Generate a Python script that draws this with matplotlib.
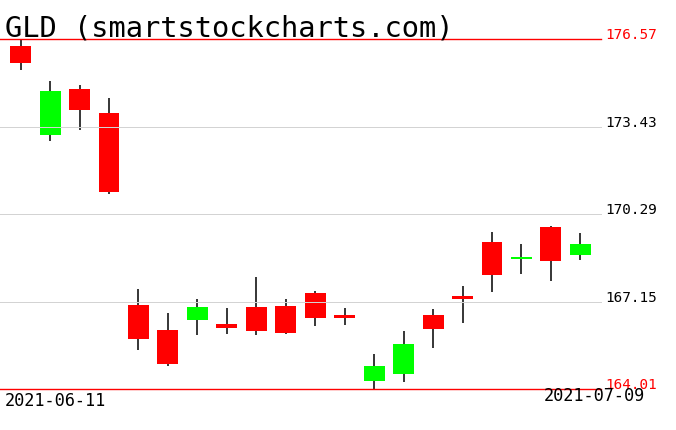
import matplotlib
matplotlib.use("Agg")
import matplotlib.pyplot as plt
import matplotlib.transforms as mtransforms
from matplotlib.patches import Rectangle

# GLD daily candles, 2021-06-11 .. 2021-07-09
dates = ["2021-06-11", "2021-06-14", "2021-06-15", "2021-06-16", "2021-06-17",
         "2021-06-18", "2021-06-21", "2021-06-22", "2021-06-23", "2021-06-24",
         "2021-06-25", "2021-06-28", "2021-06-29", "2021-06-30", "2021-07-01",
         "2021-07-02", "2021-07-06", "2021-07-07", "2021-07-08", "2021-07-09"]
opens = [176.32, 173.12, 174.78, 173.91, 167.02, 166.13, 166.49, 166.34, 166.95, 166.99,
         167.45, 166.67, 164.30, 164.55, 166.67, 167.35, 169.29, 168.68, 169.82, 168.82]
highs = [176.57, 175.06, 174.92, 174.45, 167.60, 166.74, 167.24, 166.92, 168.03, 167.24,
         167.53, 166.92, 165.27, 166.09, 166.88, 167.71, 169.64, 169.21, 169.86, 169.61]
lows = [175.47, 172.92, 173.32, 171.01, 165.42, 164.85, 165.95, 165.98, 165.95, 166.00,
        166.27, 166.31, 164.01, 164.26, 165.48, 166.38, 167.49, 168.14, 167.89, 168.64]
closes = [175.72, 174.70, 174.03, 171.09, 165.80, 164.91, 166.95, 166.20, 166.09, 166.02,
          166.56, 166.56, 164.84, 165.63, 166.16, 167.24, 168.10, 168.75, 168.60, 169.21]

price_levels = [176.57, 173.43, 170.29, 167.15, 164.01]
title = "GLD (smartstockcharts.com)"

W, H = 676, 431
fig = plt.figure(figsize=(W / 100, H / 100), dpi=100)
fig.patch.set_facecolor("white")

# plot area: x 0..601 px, y 40..390 px (from top)
ax = fig.add_axes([0, (H - 390) / H, 601 / W, 350 / H])
ax.set_xlim(-0.7, 19.7)
ax.set_ylim(min(price_levels), max(price_levels))
ax.axis("off")

body_w = 0.71
for i in range(len(dates)):
    o, h, l, c = opens[i], highs[i], lows[i], closes[i]
    color = "#00ff00" if c >= o else "#ff0000"
    ax.plot([i, i], [l, h], color="black", lw=1.1, zorder=2, solid_capstyle="butt")
    bottom = min(o, c)
    height = max(abs(c - o), 0.08)
    ax.add_patch(Rectangle((i - body_w / 2, bottom), body_w, height,
                           facecolor=color, edgecolor="none", zorder=3))

trans = mtransforms.blended_transform_factory(ax.transAxes, ax.transData)
mono = "DejaVu Sans Mono"
for k, lvl in enumerate(price_levels):
    edge = k == 0 or k == len(price_levels) - 1
    if edge:
        ax.plot([0, 1], [lvl, lvl], color="#ff0000", lw=1.0, transform=trans,
                zorder=4, clip_on=False)
    else:
        ax.plot([0, 1], [lvl, lvl], color="#d3d3d3", lw=0.72, transform=trans,
                zorder=4, clip_on=False, antialiased=False)
    ax.text(1.007, lvl + 0.03, f"{lvl:.2f}", transform=trans, ha="left", va="baseline",
            fontsize=10.4, family=mono, color="#ff0000" if edge else "black",
            clip_on=False)

fig.text(5 / W, (H - 37) / H, title, ha="left", va="baseline",
         fontsize=20.7, family=mono, color="black")
fig.text(5 / W, (H - 406) / H, dates[0], ha="left", va="baseline",
         fontsize=12.2, family=mono, color="black")
fig.text(645 / W, (H - 401) / H, dates[-1], ha="right", va="baseline",
         fontsize=12.2, family=mono, color="black")

fig.savefig("out.png", dpi=100, facecolor="white")
